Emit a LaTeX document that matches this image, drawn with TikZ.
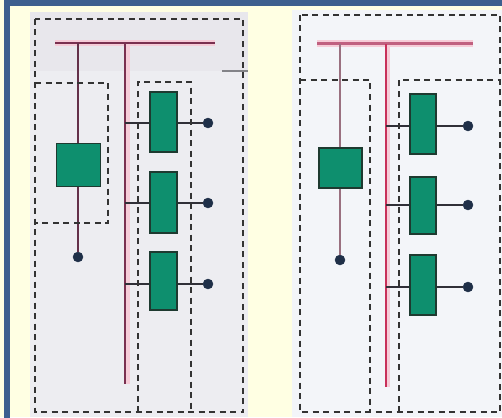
\documentclass[tikz,border=0pt]{standalone}
\usetikzlibrary{calc}
\definecolor{bgyellow}{HTML}{FFFFE3}
\definecolor{framebl}{HTML}{3D5F8F}
\definecolor{panelL}{HTML}{EDEDF1}
\definecolor{bandL}{HTML}{E8E7EC}
\definecolor{panelR}{HTML}{F3F5F9}
\definecolor{gfill}{HTML}{0E8F6E}
\definecolor{gedge}{HTML}{1E3A30}
\definecolor{dashc}{HTML}{333333}
\definecolor{busdark}{HTML}{7A3050}
\definecolor{busglow}{HTML}{F6CCD8}
\definecolor{busred}{HTML}{C8305A}
\definecolor{busmid}{HTML}{C06080}
\definecolor{mauve}{HTML}{9A7080}
\definecolor{wirec}{HTML}{303038}
\definecolor{dotc}{HTML}{1F2F48}
\tikzset{
  gbox/.style={draw=gedge, line width=1.3pt, fill=gfill, inner sep=0pt},
  bigbox/.style={gbox, minimum width=44pt, minimum height=43pt},
  smallbox/.style={gbox, minimum width=27pt, minimum height=59pt},
  endpt/.style={circle, fill=dotc, draw=dotc, inner sep=0pt, minimum size=10pt},
  dashbox/.style={draw=dashc, line width=2.3pt, dash pattern=on 6pt off 4.5pt},
  wire/.style={draw=wirec, line width=2pt},
  glow/.style={draw=busglow, line width=6pt},
}
\begin{document}
\begin{tikzpicture}[x=1pt,y=-1pt]
\useasboundingbox (0,0) rectangle (502,417);
\clip (0,0) rectangle (502,417);
% background and frame
\fill[bgyellow] (0,0) rectangle (502,417);
\draw[framebl, line width=6pt] (6.5,3) rectangle (520,440);
% panel fills
\fill[panelL] (30,12) rectangle (248,417);
\fill[bandL] (30,12) rectangle (248,71);
\fill[panelR] (292,10) rectangle (502,417);

% ---------- left panel ----------
\coordinate (lbusW) at (55,43);
\coordinate (lbusE) at (215,43);
\coordinate (lvA) at (78,43);
\coordinate (lvB) at (125,43);
\coordinate (lvBend) at (125,384);
\draw[glow] (lbusW) -- (lbusE);
\draw[glow, line width=4pt] ($(lvB)+(3,0)$) -- ($(lvBend)+(3,0)$);
\draw[busdark, line width=1.8pt] (lbusW) -- (lbusE);
\draw[busdark, line width=1.8pt] (lvB) -- (lvBend);

\node[endpt] (ld0) at (78,257) {};
\draw[wire, draw=busdark!70!wirec] (lvA) -- (ld0);
\node[bigbox] (lb) at (78.5,165) {};

\node[smallbox, minimum height=60pt] (ls1) at (163.5,122) {};
\node[smallbox, minimum height=61pt] (ls2) at (163.5,202.5) {};
\node[smallbox, minimum height=58pt] (ls3) at (163.5,281) {};
\node[endpt] (ld1) at (208,123) {};
\node[endpt] (ld2) at (208,203) {};
\node[endpt] (ld3) at (208,284) {};
\foreach \i in {1,2,3}{
  \draw[wire] (125,0 |- ld\i) -- (ls\i.west |- ld\i);
  \draw[wire] (ls\i.east |- ld\i) -- (ld\i);
}
\draw[wirec!60, line width=1.2pt] (222,71) -- (248,71);

\draw[dashbox] (35,19) rectangle (243,412);
\draw[dashbox] (35,83) -- (108,83) -- (108,223) -- (35,223);
\draw[dashbox] (138,412) -- (138,82) -- (191,82) -- (191,412);

% ---------- right panel ----------
\coordinate (rbusW) at (317,44);
\coordinate (rbusE) at (473,44);
\coordinate (rvA) at (340,44);
\coordinate (rvB) at (386,44);
\coordinate (rvBend) at (386,387);
\draw[glow, line width=7pt] (rbusW) -- (rbusE);
\draw[glow, line width=4pt] ($(rvB)+(2,0)$) -- ($(rvBend)+(2,0)$);
\draw[busmid, line width=3pt] (rbusW) -- (rbusE);
\draw[busred, line width=2pt] (rvB) -- (rvBend);

\node[endpt] (rd0) at (340,260) {};
\draw[mauve, line width=1.7pt] (rvA) -- (rd0);
\node[bigbox, minimum width=43pt, minimum height=40pt] (rb) at (340.5,168) {};

\node[smallbox, minimum width=26pt, minimum height=60pt] (rs1) at (423,124) {};
\node[smallbox, minimum width=26pt, minimum height=57pt] (rs2) at (423,205.5) {};
\node[smallbox, minimum width=26pt, minimum height=60pt] (rs3) at (423,285) {};
\node[endpt] (rd1) at (468,126) {};
\node[endpt] (rd2) at (468,205) {};
\node[endpt] (rd3) at (468,287) {};
\foreach \i in {1,2,3}{
  \draw[wire] (386,0 |- rd\i) -- (rs\i.west |- rd\i);
  \draw[wire] (rs\i.east |- rd\i) -- (rd\i);
}

\draw[dashbox] (300,15) rectangle (500,412);
\draw[dashbox] (300,80) -- (370,80) -- (370,412);
\draw[dashbox] (399,412) -- (399,80) -- (500,80);
\end{tikzpicture}
\end{document}
